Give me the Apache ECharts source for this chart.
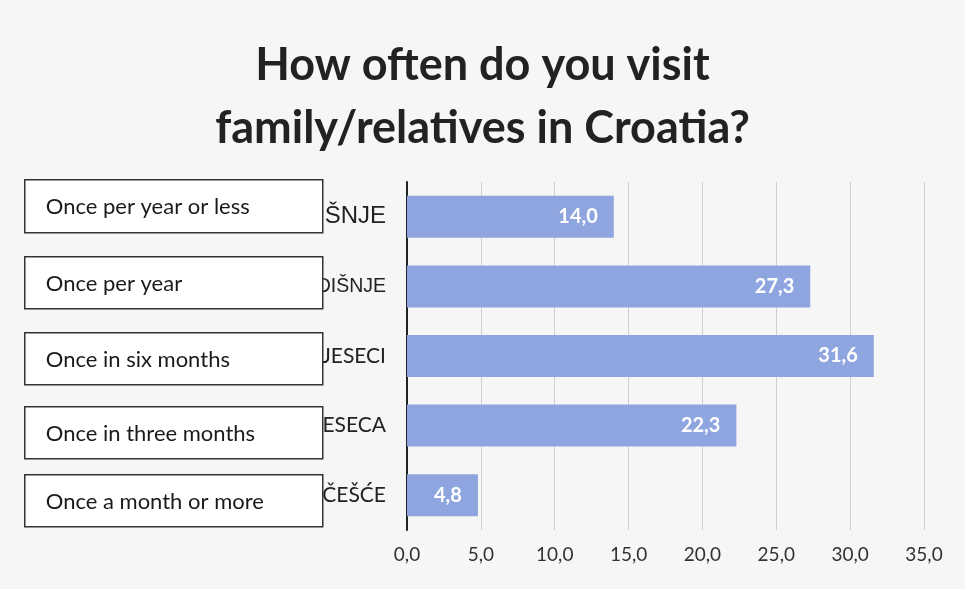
<!DOCTYPE html>
<html>
<head>
<meta charset="utf-8">
<script src="https://cdn.jsdelivr.net/npm/echarts@6/dist/echarts.min.js"></script>
<style>
  html, body { margin: 0; padding: 0; background: #f6f6f6; }
  #chart { width: 965px; height: 589px; }
</style>
</head>
<body>
<div id="chart"></div>
<script>
// Croatian axis labels (only their endings show beside the caption boxes)
const categoriesHr = ['ŠNJE', 'DIŠNJE', 'JESECI', 'ESECA', 'ČEŠĆE'];
// English captions placed over the Croatian labels
const categoriesEn = [
  'Once per year or less',
  'Once per year',
  'Once in six months',
  'Once in three months',
  'Once a month or more'
];
// Share of respondents, %
const shares = [14.0, 27.3, 31.6, 22.3, 4.8];
// Value axis ticks
const axisMin = 0;
const axisMax = 35;
const axisStep = 5;

const fmt = v => Number(v).toFixed(1).replace('.', ',');

// the Croatian labels were typed in mixed fonts
const hrLabelStyles = [
  { fontFamily: 'Liberation Sans', fontSize: 24 },
  { fontFamily: 'Liberation Sans', fontSize: 19.5 },
  { fontFamily: 'Lato', fontSize: 21 },
  { fontFamily: 'Lato', fontSize: 21 },
  { fontFamily: 'Lato', fontSize: 21 }
];

const chart = echarts.init(document.getElementById('chart'));

// caption boxes (left, top, width, height)
const boxes = [
  [24, 179, 298, 53],
  [24, 256, 298, 52],
  [24, 332, 298, 52],
  [24, 406, 298, 52],
  [24, 474, 298, 52]
];

chart.setOption({
  backgroundColor: '#f6f6f6',
  animation: false,
  title: {
    text: 'How often do you visit\nfamily/relatives in Croatia?',
    left: 'center',
    top: 29,
    textStyle: {
      fontFamily: 'Lato',
      fontWeight: 'bold',
      fontSize: 45,
      lineHeight: 63,
      color: '#222'
    }
  },
  grid: { left: 407, right: 41, top: 182, bottom: 59 },
  xAxis: {
    type: 'value',
    min: axisMin,
    max: axisMax,
    interval: axisStep,
    axisLine: { show: false },
    axisTick: { show: false },
    splitLine: { show: true, lineStyle: { color: '#cfcfcf', width: 1 } },
    axisLabel: {
      formatter: fmt,
      margin: 15,
      fontFamily: 'Lato',
      fontSize: 19,
      color: '#333'
    }
  },
  yAxis: {
    type: 'category',
    inverse: true,
    data: categoriesHr.map((name, i) => ({ value: name, textStyle: hrLabelStyles[i] })),
    axisLine: { show: true, lineStyle: { color: '#222', width: 2 } },
    axisTick: { show: false },
    axisLabel: {
      margin: 21,
      color: '#222'
    }
  },
  series: [{
    type: 'bar',
    data: shares,
    barWidth: 42,
    itemStyle: { color: '#8fa5e0' },
    label: {
      show: true,
      position: 'insideRight',
      distance: 16,
      formatter: p => fmt(p.value),
      fontFamily: 'Lato',
      fontWeight: 'bold',
      fontSize: 20,
      color: '#ffffff'
    }
  }],
  graphic: boxes.map((b, i) => ({
    type: 'group',
    left: b[0],
    top: b[1],
    zlevel: 1,
    children: [
      {
        type: 'rect',
        zlevel: 1,
        shape: { x: 0, y: 0, width: b[2], height: b[3] },
        style: { fill: '#ffffff', stroke: '#333', lineWidth: 1.5 }
      },
      {
        type: 'text',
        zlevel: 1,
        x: 21,
        y: b[3] / 2 + 1,
        style: {
          text: categoriesEn[i],
          fontFamily: 'Lato',
          fontSize: 22,
          fill: '#1a1a1a',
          verticalAlign: 'middle'
        }
      }
    ]
  }))
});
</script>
</body>
</html>
